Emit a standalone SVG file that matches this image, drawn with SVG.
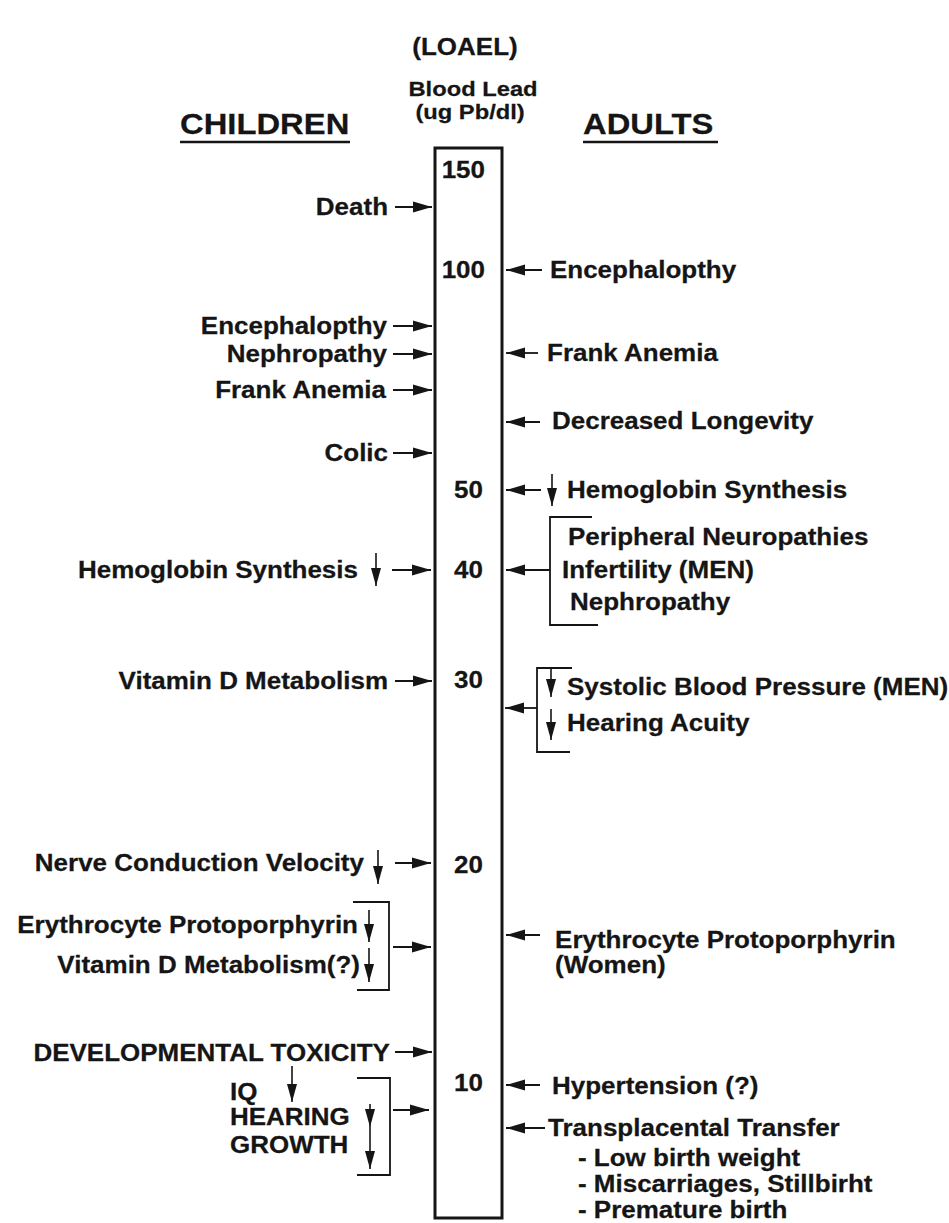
<svg xmlns="http://www.w3.org/2000/svg" width="949" height="1223" viewBox="0 0 949 1223">
<defs>
<style>
text{font-family:"Liberation Sans",Arial,sans-serif;font-weight:bold;fill:#151515;font-size:23px;stroke:#151515;stroke-width:0.25}
.h{font-size:29px}
.t{font-size:21px}
.e{text-anchor:end}
.m{text-anchor:middle}
.c line,.c path{stroke:#151515;stroke-width:1.8;fill:none}
.c .a{marker-end:url(#ah)}
.c .d{marker-end:url(#dh);stroke-width:1.6}
</style>
<marker id="ah" markerUnits="userSpaceOnUse" markerWidth="19" markerHeight="12" refX="19" refY="6" orient="auto"><path d="M0,0.5 L19,6 L0,11.5 z" fill="#151515"/></marker>
<marker id="dh" markerUnits="userSpaceOnUse" markerWidth="18" markerHeight="10" refX="18" refY="5" orient="auto"><path d="M0,0 L18,5 L0,10 z" fill="#151515"/></marker>
</defs>
<rect width="949" height="1223" fill="#ffffff"/>

<g id="header">
<g transform="scale(1.13,1)">
<text x="411.5" y="55" class="m">(LOAEL)</text>
<text x="418.6" y="96" class="m t">Blood Lead</text>
<text x="416" y="119" class="m t">(ug Pb/dl)</text>
<text x="159.3" y="134" class="h">CHILDREN</text>
<text x="515.9" y="134" class="h">ADULTS</text>
</g>
<line x1="180" y1="142" x2="350" y2="142" stroke="#151515" stroke-width="2.5"/>
<line x1="583" y1="142" x2="718" y2="142" stroke="#151515" stroke-width="2.5"/>
</g>

<g id="scale-bar">
<rect x="435" y="148" width="67" height="1070" fill="none" stroke="#151515" stroke-width="3"/>
<g transform="scale(1.13,1)">
<text x="429.2" y="178" class="e">150</text>
<text x="429.2" y="278" class="e">100</text>
<text x="427.4" y="498" class="e">50</text>
<text x="427.4" y="578" class="e">40</text>
<text x="427.4" y="688" class="e">30</text>
<text x="427.4" y="873" class="e">20</text>
<text x="427.4" y="1091" class="e">10</text>
</g>
</g>

<g id="children-labels" transform="scale(1.13,1)">
<text x="343.4" y="215" class="e">Death</text>
<text x="342.5" y="334" class="e">Encephalopthy</text>
<text x="342.5" y="362" class="e">Nephropathy</text>
<text x="341.6" y="398" class="e">Frank Anemia</text>
<text x="343.4" y="461" class="e">Colic</text>
<text x="316.8" y="578" class="e">Hemoglobin Synthesis</text>
<text x="343.4" y="689" class="e">Vitamin D Metabolism</text>
<text x="322.1" y="871" class="e">Nerve Conduction Velocity</text>
<text x="316.8" y="933" class="e">Erythrocyte Protoporphyrin</text>
<text x="318.6" y="973" class="e">Vitamin D Metabolism(?)</text>
<text x="345.1" y="1061" class="e">DEVELOPMENTAL TOXICITY</text>
<text x="203.5" y="1100">IQ</text>
<text x="203.5" y="1125">HEARING</text>
<text x="203.5" y="1153">GROWTH</text>
</g>

<g id="adult-labels" transform="scale(1.13,1)">
<text x="486.7" y="278">Encephalopthy</text>
<text x="484.1" y="361">Frank Anemia</text>
<text x="488.5" y="429">Decreased Longevity</text>
<text x="501.8" y="498">Hemoglobin Synthesis</text>
<text x="502.7" y="545">Peripheral Neuropathies</text>
<text x="497.3" y="578">Infertility (MEN)</text>
<text x="504.4" y="610">Nephropathy</text>
<text x="501.8" y="695">Systolic Blood Pressure (MEN)</text>
<text x="501.8" y="731">Hearing Acuity</text>
<text x="491.2" y="948">Erythrocyte Protoporphyrin</text>
<text x="491.2" y="973">(Women)</text>
<text x="488.5" y="1094">Hypertension (?)</text>
<text x="485" y="1136">Transplacental Transfer</text>
<text x="511.5" y="1166">- Low birth weight</text>
<text x="511.5" y="1192">- Miscarriages, Stillbirht</text>
<text x="511.5" y="1218">- Premature birth</text>
</g>

<g id="connectors" class="c">
<line class="a" x1="395" y1="207" x2="432" y2="207"/>
<line class="a" x1="393" y1="326" x2="432" y2="326"/>
<line class="a" x1="393" y1="354" x2="432" y2="354"/>
<line class="a" x1="393" y1="390" x2="432" y2="390"/>
<line class="a" x1="393" y1="453" x2="432" y2="453"/>
<line class="a" x1="392" y1="570" x2="431" y2="570"/>
<line class="d" x1="376" y1="553" x2="376" y2="586"/>
<line class="a" x1="395" y1="681" x2="432" y2="681"/>
<line class="a" x1="395" y1="863" x2="431" y2="863"/>
<line class="d" x1="378" y1="850" x2="378" y2="884"/>
<line class="d" x1="369" y1="910" x2="369" y2="942"/>
<line class="d" x1="369" y1="948" x2="369" y2="982"/>
<path d="M353,902 H389 V990 H357"/>
<line class="a" x1="393" y1="947" x2="431" y2="947"/>
<line class="a" x1="395" y1="1052" x2="432" y2="1052"/>
<line class="d" x1="292" y1="1066" x2="292" y2="1102"/>
<line class="d" x1="370" y1="1104" x2="370" y2="1127"/>
<line class="d" x1="370" y1="1127" x2="370" y2="1169"/>
<path d="M357,1078 H390 V1175 H357"/>
<line class="a" x1="393" y1="1110" x2="429" y2="1110"/>

<line class="a" x1="542" y1="270" x2="506" y2="270"/>
<line class="a" x1="538" y1="353" x2="506" y2="353"/>
<line class="a" x1="540" y1="422" x2="506" y2="422"/>
<line class="a" x1="541" y1="490" x2="506" y2="490"/>
<line class="d" x1="552" y1="474" x2="552" y2="506"/>
<path d="M592,517 H550 V625 H598"/>
<line class="a" x1="550" y1="570" x2="506" y2="570"/>
<path d="M572,668 H537 V752 H570"/>
<line class="a" x1="537" y1="708" x2="505" y2="708"/>
<line class="d" x1="551" y1="668" x2="551" y2="697"/>
<line class="d" x1="551" y1="709" x2="551" y2="740"/>
<line class="a" x1="540" y1="935" x2="506" y2="935"/>
<line class="a" x1="540" y1="1085" x2="506" y2="1085"/>
<line class="a" x1="545" y1="1128" x2="506" y2="1128"/>
</g>
</svg>
